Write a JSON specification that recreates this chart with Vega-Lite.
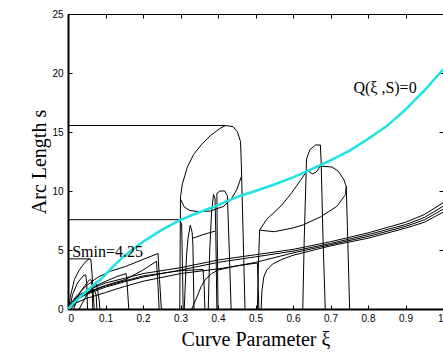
{
  "$schema": "https://vega.github.io/schema/vega-lite/v6.json",
  "width": 375,
  "height": 295,
  "autosize": {"type": "none"},
  "padding": {"left": 68, "top": 14, "right": 0, "bottom": 45},
  "background": "white",
  "config": {
    "view": {"stroke": "black", "strokeWidth": 1},
    "axis": {
      "grid": false,
      "domainColor": "black",
      "domainWidth": 2,
      "tickColor": "black",
      "tickSize": -4,
      "labelFont": "Liberation Sans",
      "labelFontSize": 10,
      "labelColor": "black",
      "titleFont": "Liberation Serif",
      "titleFontSize": 20,
      "titleFontWeight": "normal",
      "titleColor": "black"
    }
  },
  "datasets": {
    "curves": [
      {"s": "top", "o": 0, "x": 0, "y": 15.55}, {"s": "top", "o": 1, "x": 0.42, "y": 15.55}, {"s": "top", "o": 2, "x": 0.44, "y": 15.45}, {"s": "top", "o": 3, "x": 0.452, "y": 15.0}, {"s": "top", "o": 4, "x": 0.46, "y": 14.2}, {"s": "top", "o": 5, "x": 0.462, "y": 12.5}, {"s": "top", "o": 6, "x": 0.464, "y": 10}, {"s": "top", "o": 7, "x": 0.468, "y": 5}, {"s": "top", "o": 8, "x": 0.472, "y": 0},
      {"s": "loopL", "o": 0, "x": 0.42, "y": 15.55}, {"s": "loopL", "o": 1, "x": 0.405, "y": 15.3}, {"s": "loopL", "o": 2, "x": 0.38, "y": 14.7}, {"s": "loopL", "o": 3, "x": 0.355, "y": 13.9}, {"s": "loopL", "o": 4, "x": 0.335, "y": 13.1}, {"s": "loopL", "o": 5, "x": 0.318, "y": 12.0}, {"s": "loopL", "o": 6, "x": 0.305, "y": 10.6}, {"s": "loopL", "o": 7, "x": 0.3, "y": 9.5}, {"s": "loopL", "o": 8, "x": 0.299, "y": 5}, {"s": "loopL", "o": 9, "x": 0.298, "y": 0},
      {"s": "U", "o": 0, "x": 0.3, "y": 9.3}, {"s": "U", "o": 1, "x": 0.31, "y": 8.65}, {"s": "U", "o": 2, "x": 0.325, "y": 8.35}, {"s": "U", "o": 3, "x": 0.348, "y": 8.25}, {"s": "U", "o": 4, "x": 0.38, "y": 8.3}, {"s": "U", "o": 5, "x": 0.415, "y": 8.7}, {"s": "U", "o": 6, "x": 0.435, "y": 9.3}, {"s": "U", "o": 7, "x": 0.45, "y": 10.1}, {"s": "U", "o": 8, "x": 0.462, "y": 11.2},
      {"s": "h76", "o": 0, "x": 0, "y": 7.57}, {"s": "h76", "o": 1, "x": 0.296, "y": 7.57}, {"s": "h76", "o": 2, "x": 0.303, "y": 7.2}, {"s": "h76", "o": 3, "x": 0.305, "y": 4}, {"s": "h76", "o": 4, "x": 0.307, "y": 0},
      {"s": "smin", "o": 0, "x": 0, "y": 4.25}, {"s": "smin", "o": 1, "x": 0.058, "y": 4.25},
      {"s": "p1", "o": 0, "x": 0.002, "y": 0}, {"s": "p1", "o": 1, "x": 0.006, "y": 1.0}, {"s": "p1", "o": 2, "x": 0.017, "y": 2.5}, {"s": "p1", "o": 3, "x": 0.03, "y": 3.3}, {"s": "p1", "o": 4, "x": 0.045, "y": 3.95}, {"s": "p1", "o": 5, "x": 0.056, "y": 4.25}, {"s": "p1", "o": 6, "x": 0.061, "y": 4.2}, {"s": "p1", "o": 7, "x": 0.064, "y": 3.0}, {"s": "p1", "o": 8, "x": 0.067, "y": 1.5}, {"s": "p1", "o": 9, "x": 0.07, "y": 0},
      {"s": "sa", "o": 0, "x": 0.004, "y": 0}, {"s": "sa", "o": 1, "x": 0.012, "y": 1.2}, {"s": "sa", "o": 2, "x": 0.025, "y": 2.2}, {"s": "sa", "o": 3, "x": 0.04, "y": 2.8}, {"s": "sa", "o": 4, "x": 0.047, "y": 2.9}, {"s": "sa", "o": 5, "x": 0.05, "y": 2.2}, {"s": "sa", "o": 6, "x": 0.052, "y": 0},
      {"s": "sb", "o": 0, "x": 0.015, "y": 0}, {"s": "sb", "o": 1, "x": 0.03, "y": 1.3}, {"s": "sb", "o": 2, "x": 0.045, "y": 2.0}, {"s": "sb", "o": 3, "x": 0.058, "y": 2.5}, {"s": "sb", "o": 4, "x": 0.063, "y": 2.4}, {"s": "sb", "o": 5, "x": 0.065, "y": 1.2}, {"s": "sb", "o": 6, "x": 0.066, "y": 0},
      {"s": "sc", "o": 0, "x": 0.03, "y": 0}, {"s": "sc", "o": 1, "x": 0.05, "y": 1.2}, {"s": "sc", "o": 2, "x": 0.065, "y": 1.8}, {"s": "sc", "o": 3, "x": 0.074, "y": 2.3}, {"s": "sc", "o": 4, "x": 0.078, "y": 1.8}, {"s": "sc", "o": 5, "x": 0.083, "y": 0.8}, {"s": "sc", "o": 6, "x": 0.085, "y": 0},
      {"s": "sd", "o": 0, "x": 0.008, "y": 0}, {"s": "sd", "o": 1, "x": 0.03, "y": 0.9}, {"s": "sd", "o": 2, "x": 0.055, "y": 1.4}, {"s": "sd", "o": 3, "x": 0.07, "y": 1.6}, {"s": "sd", "o": 4, "x": 0.075, "y": 1.2}, {"s": "sd", "o": 5, "x": 0.077, "y": 0},
      {"s": "T1", "o": 0, "x": 0, "y": 0}, {"s": "T1", "o": 1, "x": 0.02, "y": 1.0}, {"s": "T1", "o": 2, "x": 0.05, "y": 2.0}, {"s": "T1", "o": 3, "x": 0.08, "y": 2.7}, {"s": "T1", "o": 4, "x": 0.113, "y": 3.2}, {"s": "T1", "o": 5, "x": 0.153, "y": 3.6}, {"s": "T1", "o": 6, "x": 0.2, "y": 4.2}, {"s": "T1", "o": 7, "x": 0.24, "y": 4.7}, {"s": "T1", "o": 8, "x": 0.244, "y": 2.5}, {"s": "T1", "o": 9, "x": 0.249, "y": 0},
      {"s": "T2", "o": 0, "x": 0, "y": 0}, {"s": "T2", "o": 1, "x": 0.02, "y": 0.7}, {"s": "T2", "o": 2, "x": 0.05, "y": 1.4}, {"s": "T2", "o": 3, "x": 0.1, "y": 2.0}, {"s": "T2", "o": 4, "x": 0.153, "y": 2.5}, {"s": "T2", "o": 5, "x": 0.2, "y": 3.3}, {"s": "T2", "o": 6, "x": 0.236, "y": 4.05}, {"s": "T2", "o": 7, "x": 0.24, "y": 2}, {"s": "T2", "o": 8, "x": 0.243, "y": 0},
      {"s": "T3", "o": 0, "x": 0, "y": 0}, {"s": "T3", "o": 1, "x": 0.02, "y": 0.8}, {"s": "T3", "o": 2, "x": 0.05, "y": 1.6}, {"s": "T3", "o": 3, "x": 0.09, "y": 2.2}, {"s": "T3", "o": 4, "x": 0.13, "y": 2.75}, {"s": "T3", "o": 5, "x": 0.155, "y": 3.0}, {"s": "T3", "o": 6, "x": 0.158, "y": 2.0}, {"s": "T3", "o": 7, "x": 0.162, "y": 0},
      {"s": "R1", "o": 0, "x": 0, "y": 0}, {"s": "R1", "o": 1, "x": 0.01, "y": 0.6}, {"s": "R1", "o": 2, "x": 0.03, "y": 1.2}, {"s": "R1", "o": 3, "x": 0.06, "y": 1.7}, {"s": "R1", "o": 4, "x": 0.1, "y": 2.2}, {"s": "R1", "o": 5, "x": 0.15, "y": 2.6}, {"s": "R1", "o": 6, "x": 0.2, "y": 3.0}, {"s": "R1", "o": 7, "x": 0.3, "y": 3.5}, {"s": "R1", "o": 8, "x": 0.4, "y": 4.15}, {"s": "R1", "o": 9, "x": 0.5, "y": 4.6}, {"s": "R1", "o": 10, "x": 0.6, "y": 5.05}, {"s": "R1", "o": 11, "x": 0.7, "y": 5.7}, {"s": "R1", "o": 12, "x": 0.8, "y": 6.45}, {"s": "R1", "o": 13, "x": 0.9, "y": 7.35}, {"s": "R1", "o": 14, "x": 0.95, "y": 8.0}, {"s": "R1", "o": 15, "x": 1.0, "y": 9.0},
      {"s": "R2", "o": 0, "x": 0, "y": 0}, {"s": "R2", "o": 1, "x": 0.015, "y": 0.6}, {"s": "R2", "o": 2, "x": 0.04, "y": 1.1}, {"s": "R2", "o": 3, "x": 0.07, "y": 1.5}, {"s": "R2", "o": 4, "x": 0.1, "y": 1.85}, {"s": "R2", "o": 5, "x": 0.15, "y": 2.3}, {"s": "R2", "o": 6, "x": 0.2, "y": 2.7}, {"s": "R2", "o": 7, "x": 0.3, "y": 3.3}, {"s": "R2", "o": 8, "x": 0.4, "y": 3.95}, {"s": "R2", "o": 9, "x": 0.5, "y": 4.42}, {"s": "R2", "o": 10, "x": 0.6, "y": 4.9}, {"s": "R2", "o": 11, "x": 0.7, "y": 5.55}, {"s": "R2", "o": 12, "x": 0.8, "y": 6.3}, {"s": "R2", "o": 13, "x": 0.9, "y": 7.15}, {"s": "R2", "o": 14, "x": 0.95, "y": 7.75}, {"s": "R2", "o": 15, "x": 1.0, "y": 8.7},
      {"s": "R3", "o": 0, "x": 0.33, "y": 0}, {"s": "R3", "o": 1, "x": 0.338, "y": 0.6}, {"s": "R3", "o": 2, "x": 0.345, "y": 1.1}, {"s": "R3", "o": 3, "x": 0.355, "y": 1.9}, {"s": "R3", "o": 4, "x": 0.366, "y": 2.5}, {"s": "R3", "o": 5, "x": 0.383, "y": 3.0}, {"s": "R3", "o": 6, "x": 0.4, "y": 3.3}, {"s": "R3", "o": 7, "x": 0.45, "y": 3.65}, {"s": "R3", "o": 8, "x": 0.5, "y": 3.95}, {"s": "R3", "o": 9, "x": 0.55, "y": 4.35}, {"s": "R3", "o": 10, "x": 0.6, "y": 4.75}, {"s": "R3", "o": 11, "x": 0.7, "y": 5.45}, {"s": "R3", "o": 12, "x": 0.8, "y": 6.15}, {"s": "R3", "o": 13, "x": 0.9, "y": 7.0}, {"s": "R3", "o": 14, "x": 0.95, "y": 7.55}, {"s": "R3", "o": 15, "x": 1.0, "y": 8.45},
      {"s": "R4", "o": 0, "x": 0.515, "y": 0}, {"s": "R4", "o": 1, "x": 0.517, "y": 1.5}, {"s": "R4", "o": 2, "x": 0.522, "y": 2.7}, {"s": "R4", "o": 3, "x": 0.53, "y": 3.3}, {"s": "R4", "o": 4, "x": 0.545, "y": 3.8}, {"s": "R4", "o": 5, "x": 0.57, "y": 4.2}, {"s": "R4", "o": 6, "x": 0.6, "y": 4.55}, {"s": "R4", "o": 7, "x": 0.7, "y": 5.35}, {"s": "R4", "o": 8, "x": 0.8, "y": 6.0}, {"s": "R4", "o": 9, "x": 0.9, "y": 6.85}, {"s": "R4", "o": 10, "x": 0.95, "y": 7.35}, {"s": "R4", "o": 11, "x": 1.0, "y": 8.2},
      {"s": "R5", "o": 0, "x": 0, "y": 0}, {"s": "R5", "o": 1, "x": 0.02, "y": 0.5}, {"s": "R5", "o": 2, "x": 0.05, "y": 0.9}, {"s": "R5", "o": 3, "x": 0.1, "y": 1.4}, {"s": "R5", "o": 4, "x": 0.15, "y": 1.9}, {"s": "R5", "o": 5, "x": 0.2, "y": 2.35}, {"s": "R5", "o": 6, "x": 0.3, "y": 3.0}, {"s": "R5", "o": 7, "x": 0.4, "y": 3.4}, {"s": "R5", "o": 8, "x": 0.47, "y": 3.75}, {"s": "R5", "o": 9, "x": 0.505, "y": 3.9}, {"s": "R5", "o": 10, "x": 0.507, "y": 2}, {"s": "R5", "o": 11, "x": 0.509, "y": 0},
      {"s": "F1", "o": 0, "x": 0, "y": 0}, {"s": "F1", "o": 1, "x": 0.02, "y": 0.8}, {"s": "F1", "o": 2, "x": 0.06, "y": 1.5}, {"s": "F1", "o": 3, "x": 0.1, "y": 1.95}, {"s": "F1", "o": 4, "x": 0.2, "y": 2.8}, {"s": "F1", "o": 5, "x": 0.3, "y": 3.25}, {"s": "F1", "o": 6, "x": 0.36, "y": 3.35}, {"s": "F1", "o": 7, "x": 0.363, "y": 2}, {"s": "F1", "o": 8, "x": 0.365, "y": 0},
      {"s": "S1", "o": 0, "x": 0.31, "y": 0}, {"s": "S1", "o": 1, "x": 0.316, "y": 4.5}, {"s": "S1", "o": 2, "x": 0.32, "y": 6.0}, {"s": "S1", "o": 3, "x": 0.326, "y": 7.1}, {"s": "S1", "o": 4, "x": 0.331, "y": 6.5}, {"s": "S1", "o": 5, "x": 0.333, "y": 5.5}, {"s": "S1", "o": 6, "x": 0.336, "y": 0},
      {"s": "C5", "o": 0, "x": 0.333, "y": 6.0}, {"s": "C5", "o": 1, "x": 0.36, "y": 6.3}, {"s": "C5", "o": 2, "x": 0.392, "y": 6.6},
      {"s": "S5", "o": 0, "x": 0.374, "y": 0}, {"s": "S5", "o": 1, "x": 0.378, "y": 5}, {"s": "S5", "o": 2, "x": 0.383, "y": 8.3}, {"s": "S5", "o": 3, "x": 0.388, "y": 9.7}, {"s": "S5", "o": 4, "x": 0.392, "y": 9.4}, {"s": "S5", "o": 5, "x": 0.394, "y": 6.6}, {"s": "S5", "o": 6, "x": 0.397, "y": 0},
      {"s": "S4", "o": 0, "x": 0.4, "y": 0}, {"s": "S4", "o": 1, "x": 0.398, "y": 6}, {"s": "S4", "o": 2, "x": 0.397, "y": 9.8}, {"s": "S4", "o": 3, "x": 0.405, "y": 10.0}, {"s": "S4", "o": 4, "x": 0.418, "y": 10.0}, {"s": "S4", "o": 5, "x": 0.425, "y": 9.6}, {"s": "S4", "o": 6, "x": 0.43, "y": 5}, {"s": "S4", "o": 7, "x": 0.435, "y": 0},
      {"s": "LCu", "o": 0, "x": 0.505, "y": 0}, {"s": "LCu", "o": 1, "x": 0.508, "y": 4}, {"s": "LCu", "o": 2, "x": 0.511, "y": 6.7}, {"s": "LCu", "o": 3, "x": 0.53, "y": 7.6}, {"s": "LCu", "o": 4, "x": 0.57, "y": 8.8}, {"s": "LCu", "o": 5, "x": 0.593, "y": 9.7}, {"s": "LCu", "o": 6, "x": 0.62, "y": 10.9}, {"s": "LCu", "o": 7, "x": 0.636, "y": 11.66}, {"s": "LCu", "o": 8, "x": 0.66, "y": 12.05}, {"s": "LCu", "o": 9, "x": 0.68, "y": 12.1}, {"s": "LCu", "o": 10, "x": 0.704, "y": 12.03}, {"s": "LCu", "o": 11, "x": 0.72, "y": 11.7}, {"s": "LCu", "o": 12, "x": 0.735, "y": 11.0}, {"s": "LCu", "o": 13, "x": 0.742, "y": 10.4}, {"s": "LCu", "o": 14, "x": 0.745, "y": 7}, {"s": "LCu", "o": 15, "x": 0.751, "y": 0},
      {"s": "LCl", "o": 0, "x": 0.511, "y": 6.7}, {"s": "LCl", "o": 1, "x": 0.52, "y": 6.65}, {"s": "LCl", "o": 2, "x": 0.55, "y": 6.55}, {"s": "LCl", "o": 3, "x": 0.6, "y": 6.87}, {"s": "LCl", "o": 4, "x": 0.628, "y": 7.14}, {"s": "LCl", "o": 5, "x": 0.673, "y": 7.8}, {"s": "LCl", "o": 6, "x": 0.717, "y": 8.7}, {"s": "LCl", "o": 7, "x": 0.74, "y": 9.7}, {"s": "LCl", "o": 8, "x": 0.742, "y": 10.4},
      {"s": "S6", "o": 0, "x": 0.626, "y": 0}, {"s": "S6", "o": 1, "x": 0.63, "y": 6}, {"s": "S6", "o": 2, "x": 0.636, "y": 12.7}, {"s": "S6", "o": 3, "x": 0.645, "y": 13.5}, {"s": "S6", "o": 4, "x": 0.66, "y": 13.9}, {"s": "S6", "o": 5, "x": 0.673, "y": 13.9}, {"s": "S6", "o": 6, "x": 0.675, "y": 12.5}, {"s": "S6", "o": 7, "x": 0.68, "y": 6}, {"s": "S6", "o": 8, "x": 0.686, "y": 0},
      {"s": "dip", "o": 0, "x": 0.636, "y": 11.8}, {"s": "dip", "o": 1, "x": 0.645, "y": 11.6}, {"s": "dip", "o": 2, "x": 0.652, "y": 11.45}, {"s": "dip", "o": 3, "x": 0.662, "y": 11.6}, {"s": "dip", "o": 4, "x": 0.673, "y": 12.1}
    ],
    "q": [
      {"x": 0, "y": 0}, {"x": 0.01, "y": 0.35}, {"x": 0.03, "y": 0.95}, {"x": 0.06, "y": 1.8}, {"x": 0.087, "y": 2.5}, {"x": 0.12, "y": 3.6}, {"x": 0.15, "y": 4.5}, {"x": 0.2, "y": 5.7}, {"x": 0.25, "y": 6.7}, {"x": 0.3, "y": 7.55}, {"x": 0.35, "y": 8.2}, {"x": 0.4, "y": 8.8}, {"x": 0.46, "y": 9.6}, {"x": 0.5, "y": 10.0}, {"x": 0.55, "y": 10.55}, {"x": 0.6, "y": 11.15}, {"x": 0.65, "y": 11.85}, {"x": 0.7, "y": 12.6}, {"x": 0.75, "y": 13.4}, {"x": 0.8, "y": 14.4}, {"x": 0.85, "y": 15.5}, {"x": 0.9, "y": 16.9}, {"x": 0.95, "y": 18.5}, {"x": 1.0, "y": 20.3}
    ],
    "labels": [
      {"x": 0.011, "y": 4.4, "t": "Smin=4.25"},
      {"x": 0.761, "y": 18.3, "t": "Q(ξ ,S)=0"}
    ]
  },
  "layer": [
    {
      "data": {"name": "curves"},
      "mark": {"type": "line", "stroke": "black", "strokeWidth": 1, "clip": true},
      "encoding": {
        "x": {"field": "x", "type": "quantitative", "scale": {"domain": [0, 1], "nice": false},
          "axis": {"values": [0, 0.1, 0.2, 0.3, 0.4, 0.5, 0.6, 0.7, 0.8, 0.9, 1], "format": "~g", "title": "Curve Parameter  ξ", "titlePadding": 6, "labelPadding": 8}},
        "y": {"field": "y", "type": "quantitative", "scale": {"domain": [0, 25], "nice": false},
          "axis": {"values": [0, 5, 10, 15, 20, 25], "title": "Arc Length  s", "titlePadding": 2, "labelPadding": 9}},
        "detail": {"field": "s"},
        "order": {"field": "o", "type": "quantitative"}
      }
    },
    {
      "data": {"name": "q"},
      "mark": {"type": "line", "stroke": "#1de3e3", "strokeWidth": 2.5, "clip": true},
      "encoding": {
        "x": {"field": "x", "type": "quantitative",
          "axis": {"orient": "top", "values": [0, 0.1, 0.2, 0.3, 0.4, 0.5, 0.6, 0.7, 0.8, 0.9, 1], "labels": false, "title": null, "domainWidth": 1}},
        "y": {"field": "y", "type": "quantitative",
          "axis": {"orient": "right", "values": [0, 5, 10, 15, 20, 25], "labels": false, "title": null, "domainWidth": 1}}
      }
    },
    {
      "data": {"name": "labels"},
      "mark": {"type": "text", "align": "left", "baseline": "alphabetic", "font": "Liberation Serif", "fontSize": 16, "color": "black"},
      "encoding": {
        "x": {"field": "x", "type": "quantitative", "axis": null},
        "y": {"field": "y", "type": "quantitative", "axis": null},
        "text": {"field": "t"}
      }
    }
  ],
  "resolve": {"axis": {"x": "independent", "y": "independent"}}
}
